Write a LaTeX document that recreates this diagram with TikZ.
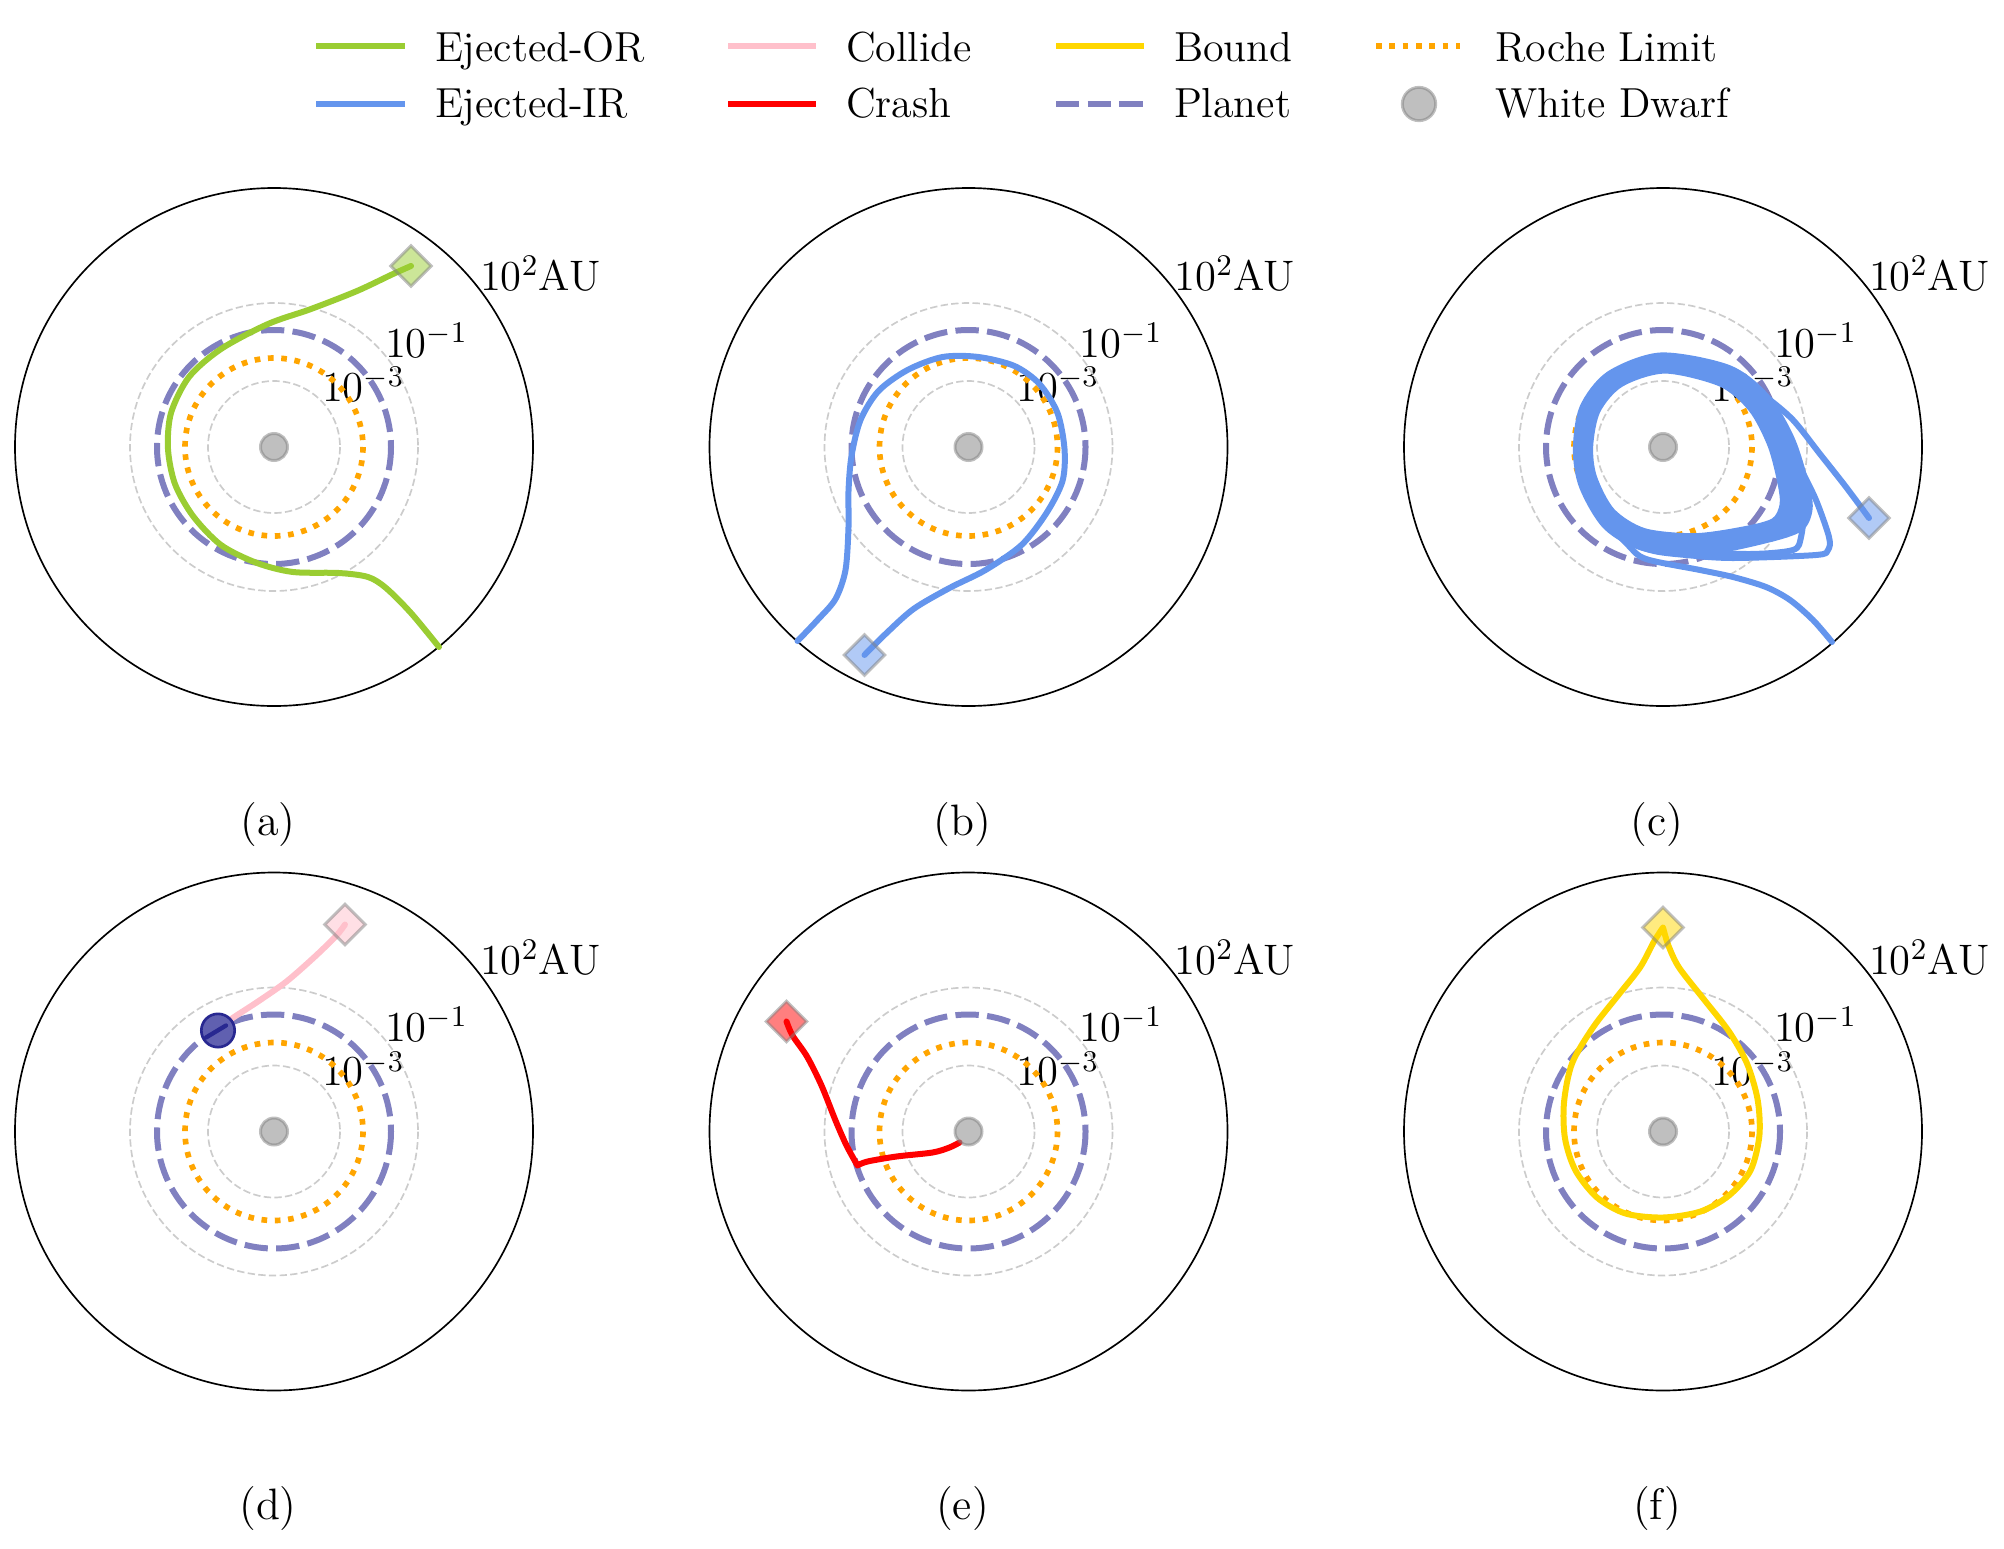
\documentclass[tikz,border=0pt]{standalone}
\usepackage{fontspec}
\usetikzlibrary{shapes.geometric}
\definecolor{orcol}{RGB}{154,205,50}
\definecolor{ircol}{RGB}{100,149,237}
\definecolor{colcol}{RGB}{255,192,203}
\definecolor{crcol}{RGB}{255,0,0}
\definecolor{bdcol}{RGB}{255,215,0}
\definecolor{rlcol}{RGB}{255,165,0}
\definecolor{plcol}{RGB}{128,128,192}
\definecolor{grcol}{RGB}{204,204,204}
\definecolor{navycol}{RGB}{0,0,128}
\definecolor{colfill}{RGB}{96,96,176}
\definecolor{coledge}{RGB}{40,40,145}
\newcommand\polarpanel[3]{%
 \begin{scope}[shift={(#1,#2)}]
  \node[tick, anchor=base west] (tA#3) at (206,-157) {10$^{2}$AU};
  \node[tick, anchor=base west] (tB#3) at (111,-90) {10$^{-1}$};
  \node[tick, anchor=base west] (tC#3) at (48,-46) {10$^{-3}$};
  \draw[gridc] (0,0) circle (66);
  \draw[gridc] (0,0) circle (144);
  \draw[rochec] (0,0) circle (89);
  \draw[planetc] (0,0) circle (117);
  \draw[black, line width=0.5pt] (0,0) circle (259);
  \node[capt, anchor=base] (cap#3) at (-6,388) {(#3)};
 \end{scope}}
\begin{document}
\begin{tikzpicture}[x=0.3pt,y=-0.3pt,
 lbl/.style={font=\fontsize{12.6}{15}\selectfont, inner sep=0pt, outer sep=0pt},
 tick/.style={font=\fontsize{12.8}{15}\selectfont, inner sep=0pt, outer sep=0pt},
 capt/.style={font=\fontsize{13.2}{16}\selectfont, inner sep=0pt, outer sep=0pt},
 traj/.style={line width=1.8pt, line cap=round, line join=round},
 legline/.style={line width=1.8pt},
 gridc/.style={grcol, line width=0.5pt, dash pattern=on 2.2pt off 1pt},
 planetc/.style={plcol, line width=1.8pt, dash pattern=on 7pt off 2.5pt},
 rochec/.style={rlcol, line width=1.7pt, dash pattern=on 1.7pt off 2.3pt},
 wd/.style={circle, draw=gray, fill=gray, opacity=0.5, line width=0.9pt, minimum size=8.1pt, inner sep=0pt},
 startmk/.style={diamond, aspect=1, draw=gray, opacity=0.5, line width=0.9pt, minimum width=12.5pt, minimum height=12.5pt, inner sep=0pt},
]
\useasboundingbox (0,0) rectangle (2004,1548);

% ---------- legend ----------
\coordinate (la1) at (316,46);  \coordinate (la2) at (405,46);
\coordinate (lb1) at (728,46);  \coordinate (lb2) at (816,46);
\coordinate (lc1) at (1056,46); \coordinate (lc2) at (1144,46);
\coordinate (ld1) at (1376,46); \coordinate (ld2) at (1460,46);
\coordinate (le1) at (316,104); \coordinate (le2) at (405,104);
\coordinate (lf1) at (728,104); \coordinate (lf2) at (816,104);
\coordinate (lg1) at (1056,104);\coordinate (lg2) at (1144,104);
\draw[legline, orcol] (la1) -- (la2);
\draw[legline, colcol] (lb1) -- (lb2);
\draw[legline, bdcol] (lc1) -- (lc2);
\draw[rochec] (ld1) -- (ld2);
\draw[legline, ircol] (le1) -- (le2);
\draw[legline, crcol] (lf1) -- (lf2);
\draw[planetc] (lg1) -- (lg2);
\node[wd, minimum size=10pt] (lwd) at (1419,104) {};
\node[lbl, anchor=base west] (ta) at (435,61.5) {Ejected-OR};
\node[lbl, anchor=base west] (tb) at (846,61.5) {Collide};
\node[lbl, anchor=base west] (tc) at (1174,61.5) {Bound};
\node[lbl, anchor=base west] (td) at (1495,61.5) {Roche Limit};
\node[lbl, anchor=base west] (te) at (435,117) {Ejected-IR};
\node[lbl, anchor=base west] (tf) at (846,117) {Crash};
\node[lbl, anchor=base west] (tg) at (1174,117) {Planet};
\node[lbl, anchor=base west] (th) at (1495,117) {White Dwarf};

% ---------- panel bases ----------
\polarpanel{274}{447}{a}
\polarpanel{968.5}{447}{b}
\polarpanel{1663}{447}{c}
\polarpanel{274}{1131.5}{d}
\polarpanel{968.5}{1131.5}{e}
\polarpanel{1663}{1131.5}{f}

% ---------- (a) ----------
\begin{scope}[shift={(274,447)}]
 \coordinate (sa) at (137,-181);
 \coordinate (ea) at (165,200);
 \draw[traj, orcol] plot[smooth] coordinates {(sa) (119,-173) (83,-156) (37,-138) (-6,-123) (-53,-98) (-85,-70) (-103,-34) (-106,2) (-99,37) (-81,69) (-53,98) (-17,116) (19,125) (65,126) (94,130) (112,141) (137,166) (ea)};
 \node[startmk, fill=orcol] (ma) at (sa) {};
 \node[wd] (wda) at (0,0) {};
\end{scope}

% ---------- (b) ----------
\begin{scope}[shift={(968.5,447)}]
 \coordinate (sb) at (-104,208);
 \coordinate (eb) at (-171,194);
 \draw[traj, ircol] plot[smooth] coordinates {(sb) (-83,187) (-55,162) (-19,141) (17,123) (53,98) (78,66) (94,34) (96,2) (89,-34) (71,-63) (46,-81) (10,-90) (-26,-90) (-61,-77) (-90,-56) (-108,-27) (-117,9) (-120,44) (-120,80) (-123,123) (-133,152) (-151,173) (eb)};
 \node[startmk, fill=ircol] (mb) at (sb) {};
 \node[wd] (wdb) at (0,0) {};
\end{scope}

% ---------- (c) ----------
\begin{scope}[shift={(1663,447)}]
 \coordinate (sc) at (206,71);
 \coordinate (ec) at (169,195);
 \foreach \a/\s in {-1.5/0.91,-1/0.94,-0.5/0.97,0/1.0,0.5/1.03,1/1.06,1.5/1.09}
  \draw[traj, ircol, rotate=\a, scale=\s] plot[smooth cycle] coordinates {(0,-84) (62,-71) (96,-44) (118,-5) (130,36) (133,60) (124,78) (92,88) (38,97) (-18,93) (-54,72) (-75,35) (-80,1) (-73,-38) (-48,-68)};
 \draw[traj, ircol] plot[smooth] coordinates {(-48,-70) (0,-87) (64,-73) (100,-46) (120,-17) (137,20) (153,53) (166,90) (165,103) (153,108) (70,111) (23,108) (-13,103) (-45,88) (-70,60)};
 \draw[traj, ircol] plot[smooth] coordinates {(-48,-70) (0,-86) (63,-72) (98,-45) (122,-10) (137,23) (141,60) (138,90) (130,103) (87,107) (30,104) (-20,97) (-55,76)};
 \draw[traj, ircol] plot[smooth] coordinates {(sc) (183,40) (157,7) (130,-27) (103,-50) (77,-67) (40,-82) (0,-88) (-45,-72) (-72,-40) (-81,0) (-75,40)};
 \draw[traj, ircol] plot[smooth] coordinates {(-76,38) (-60,70) (-35,98) (-17,112) (37,123) (70,130) (103,140) (127,153) (150,173) (ec)};
 \node[startmk, fill=ircol] (mc) at (sc) {};
 \node[wd] (wdc) at (0,0) {};
\end{scope}

% ---------- (d) ----------
\begin{scope}[shift={(274,1131.5)}]
 \coordinate (sd) at (71,-207);
 \coordinate (kd) at (-56,-101);
 \coordinate (pd1) at (-68,-94);
 \coordinate (pd2) at (-48,-106);
 \draw[traj, colcol] plot[smooth] coordinates {(sd) (62.5,-196) (41,-175) (12.5,-150) (-16,-130) (-45,-111) (kd)};
 \node[startmk, fill=colcol] (md) at (sd) {};
 \node[circle, draw=coledge, fill=colfill, line width=0.8pt, minimum size=10pt, inner sep=0pt] (cold) at (kd) {};
 \draw[line width=1.3pt, line cap=round, coledge] (pd1) -- (pd2);
 \node[wd] (wdd) at (0,0) {};
\end{scope}

% ---------- (e) ----------
\begin{scope}[shift={(968.5,1131.5)}]
 \coordinate (se) at (-182,-110);
 \coordinate (ke) at (-111,34);
 \coordinate (ee) at (-9,11);
 \draw[traj, crcol] plot[smooth] coordinates {(se) (-176,-96) (-161.5,-75) (-147,-46) (-133,-11) (-122,14) (ke)} -- plot[smooth] coordinates {(ke) (-101,30) (-72,25) (-36,21) (-19,16) (ee)};
 \node[startmk, fill=crcol] (me) at (se) {};
 \node[wd] (wde) at (0,0) {};
\end{scope}

% ---------- (f) ----------
\begin{scope}[shift={(1663,1131.5)}]
 \coordinate (sf) at (0,-204);
 \draw[traj, bdcol] plot[smooth] coordinates {(sf) (-9,-190) (-23,-164) (-45,-136) (-70,-104) (-91,-68) (-99,-29) (-98,7) (-87.5,39) (-66,66) (-37.5,82) (0,86) (37.5,80) (66,64) (87.5,39) (96.4,4) (94.6,-32) (84,-68) (66,-100) (41,-132) (16,-164) (5.4,-186) (sf)};
 \node[startmk, fill=bdcol] (mf) at (sf) {};
 \node[wd] (wdf) at (0,0) {};
\end{scope}
\end{tikzpicture}
\end{document}
